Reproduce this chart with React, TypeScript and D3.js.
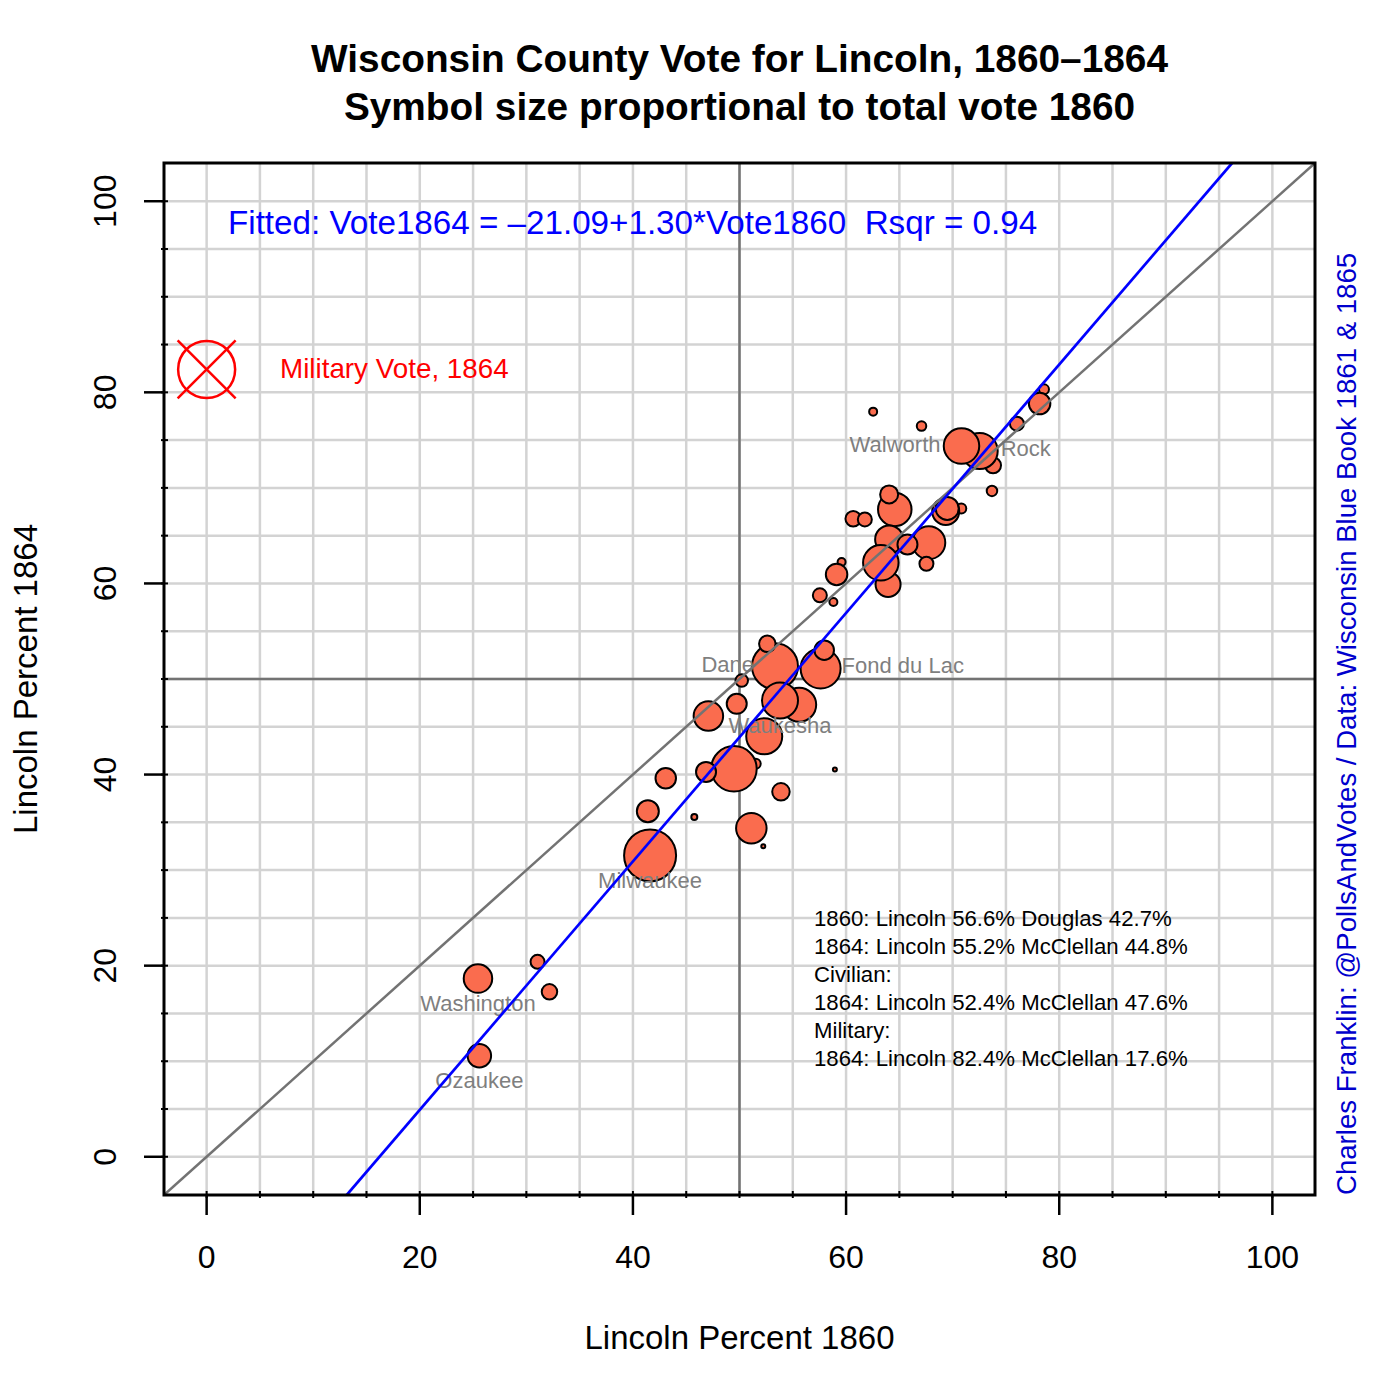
import React from "react";
import * as d3 from "d3";

// ---- data (drawing order) ----
const countyNames = [
  "", "", "", "Rock", "Walworth", "", "", "", "",
  "", "", "", "", "", "", "",
  "", "", "", "", "", "", "",
  "", "", "", "Dane", "", "Fond du Lac", "", "",
  "", "", "Waukesha", "", "", "", "", "",
  "", "", "", "", "", "", "",
  "Milwaukee", "Washington", "", "", "Ozaukee",
];
const pct1860 = [
  62.54, 67.08, 73.79, 72.54, 70.83, 76.03, 78.57, 78.16, 73.69,
  64.57, 64.04, 60.67, 61.76, 70.81, 69.35, 69.49,
  64.04, 67.76, 65.76, 67.54, 63.94, 63.26, 59.58,
  59.11, 57.54, 58.81, 53.33, 52.61, 57.61, 57.95, 50.21,
  49.74, 55.6, 53.8, 47.08, 52.32, 51.52, 49.48, 46.86,
  43.08, 58.95, 53.89, 41.4, 45.76, 51.11, 52.23,
  41.61, 25.46, 31.05, 32.17, 25.59,
];
const pct1864 = [
  77.98, 76.47, 72.36, 73.85, 74.38, 76.72, 80.31, 78.82, 69.68,
  67.75, 69.32, 66.77, 66.7, 67.85, 67.54, 67.85,
  64.61, 64.26, 64.08, 62.06, 59.9, 62.16, 62.25,
  60.94, 58.76, 58.06, 51.34, 53.68, 51.1, 53.02, 49.84,
  47.4, 47.3, 47.75, 46.12, 44.01, 41.12, 40.6, 40.28,
  39.61, 40.52, 38.19, 36.16, 35.57, 34.39, 32.49,
  31.54, 18.65, 20.4, 17.26, 10.58,
];
const vote1860 = [
  1600, 1900, 3200, 7200, 7100, 2800, 2000, 4300, 2100,
  6700, 3600, 3100, 2800, 2000, 5400, 4600,
  5600, 6600, 4000, 2800, 5000, 7100, 1600,
  4300, 2800, 1600, 9200, 3300, 8000, 3900, 2500,
  4000, 6800, 7200, 5900, 7200, 2000, 9100, 4000,
  4100, 800, 3500, 4400, 1200, 6100, 800,
  10400, 5700, 2800, 3100, 4700,
];
const labelSide: Record<string, string> = {
  Walworth: "left", Rock: "right", Dane: "left", "Fond du Lac": "right",
  Waukesha: "below", Milwaukee: "below", Washington: "below", Ozaukee: "below",
};
const fitIntercept = -21.09;
const fitSlope = 1.3;
const rsqr = 0.94;
const militaryPct1864 = 82.4;
const majorTicks = [0, 20, 40, 60, 80, 100];
const gridValues = d3.range(0, 101, 5);
const summaryLines = [
  "1860: Lincoln 56.6% Douglas 42.7%",
  "1864: Lincoln 55.2% McClellan 44.8%",
  "Civilian:",
  "1864: Lincoln 52.4% McClellan 47.6%",
  "Military:",
  "1864: Lincoln 82.4% McClellan 17.6%",
];

const FONT = "'Liberation Sans', Arial, Helvetica, sans-serif";

export default function App() {
  const W = 1400, H = 1400;
  const L = 164, R = 1315, T = 163, B = 1195;
  const x = d3.scaleLinear().domain([-4, 104]).range([L, R]);
  const y = d3.scaleLinear().domain([-4, 104]).range([B, T]);
  const r = d3.scaleLinear().domain([0, 10400]).range([0, 26]);

  const fitX0 = (-4 - fitIntercept) / fitSlope;
  const fitX1 = (104 - fitIntercept) / fitSlope;
  const line = d3.line<[number, number]>().x((d) => x(d[0])).y((d) => y(d[1]));

  const points = pct1860.map((v, i) => ({
    x: v, y: pct1864[i], vote: vote1860[i], name: countyNames[i],
  }));

  const gray = "#737373";
  const labelGray = "#7f7f7f";

  return (
    <svg width={W} height={H} style={{ position: "absolute", left: 0, top: 0, background: "#fff" }} fontFamily={FONT}>
      <rect x={0} y={0} width={W} height={H} fill="#fff" />
      <defs>
        <clipPath id="plotclip">
          <rect x={L} y={T} width={R - L} height={B - T} />
        </clipPath>
      </defs>
      {/* title */}
      <text x={(L + R) / 2} y={72} textAnchor="middle" fontWeight="bold" fontSize={38.8}>
        Wisconsin County Vote for Lincoln, 1860–1864
      </text>
      <text x={(L + R) / 2} y={120} textAnchor="middle" fontWeight="bold" fontSize={38.8}>
        Symbol size proportional to total vote 1860
      </text>

      <g clipPath="url(#plotclip)">
        {gridValues.map((g) => (
          <line key={"gx" + g} x1={x(g)} x2={x(g)} y1={T} y2={B} stroke="#d3d3d3" strokeWidth={2.5} />
        ))}
        {gridValues.map((g) => (
          <line key={"gy" + g} x1={L} x2={R} y1={y(g)} y2={y(g)} stroke="#d3d3d3" strokeWidth={2.5} />
        ))}
        <line x1={x(50)} x2={x(50)} y1={T} y2={B} stroke={gray} strokeWidth={2.5} />
        <line x1={L} x2={R} y1={y(50)} y2={y(50)} stroke={gray} strokeWidth={2.5} />

        {points.map((p, i) => (
          <circle key={"p" + i} cx={x(p.x)} cy={y(p.y)} r={r(p.vote)} fill="#FA6C4E" stroke="#000" strokeWidth={2} />
        ))}

        {points.filter((p) => p.name && labelSide[p.name]).map((p) => {
          const side = labelSide[p.name];
          const px = x(p.x), py = y(p.y);
          let tx = px, ty = py, anchor = "middle";
          if (side === "left") { tx = px - 21; ty = py - 2; anchor = "end"; }
          if (side === "right") { tx = px + 21; ty = py - 3; anchor = "start"; }
          if (side === "below") { ty = py + 25; }
          return (
            <text key={"l" + p.name} x={tx} y={ty} dy="0.35em" textAnchor={anchor} fontSize={22} fill={labelGray}>
              {p.name}
            </text>
          );
        })}

        <path d={line([[-4, -4], [104, 104]]) || ""} stroke={gray} strokeWidth={2.5} fill="none" />
        <path d={line([[fitX0, -4], [fitX1, 104]]) || ""} stroke="#0000ff" strokeWidth={2.7} fill="none" />
      </g>

      {/* fitted text */}
      <text x={228} y={222} dy="0.35em" fontSize={33.2} fill="#0000ff" style={{ whiteSpace: "pre" }}>
        {`Fitted: Vote1864 = \u2013${Math.abs(fitIntercept).toFixed(2)}+${fitSlope.toFixed(2)}*Vote1860  Rsqr = ${rsqr.toFixed(2)}`}
      </text>

      {/* military symbol */}
      <g stroke="#ff0000" strokeWidth={2.5} fill="none">
        <circle cx={x(0)} cy={y(militaryPct1864)} r={28.5} />
        <line x1={x(0) - 29} y1={y(militaryPct1864) - 29} x2={x(0) + 29} y2={y(militaryPct1864) + 29} />
        <line x1={x(0) - 29} y1={y(militaryPct1864) + 29} x2={x(0) + 29} y2={y(militaryPct1864) - 29} />
      </g>
      <text x={280} y={368} dy="0.35em" fontSize={27.8} fill="#ff0000">Military Vote, 1864</text>

      {/* summary */}
      {summaryLines.map((s, i) => (
        <text key={"s" + i} x={814} y={918 + i * 28} dy="0.35em" fontSize={22.2} fill="#000">{s}</text>
      ))}

      {/* border */}
      <rect x={L} y={T} width={R - L} height={B - T} fill="none" stroke="#000" strokeWidth={3} />

      {/* minor ticks */}
      {gridValues.map((g) => (
        <line key={"mx" + g} x1={x(g)} x2={x(g)} y1={B - 4} y2={B + 3} stroke="#000" strokeWidth={2} />
      ))}
      {gridValues.map((g) => (
        <line key={"my" + g} x1={L - 3} x2={L + 4} y1={y(g)} y2={y(g)} stroke="#000" strokeWidth={2} />
      ))}

      {/* x axis */}
      {majorTicks.map((t) => (
        <g key={"xt" + t}>
          <line x1={x(t)} x2={x(t)} y1={B} y2={B + 20} stroke="#000" strokeWidth={2.5} />
          <text x={x(t)} y={1257} dy="0.35em" textAnchor="middle" fontSize={32}>{t}</text>
        </g>
      ))}
      {/* y axis */}
      {majorTicks.map((t) => (
        <g key={"yt" + t}>
          <line x1={L} x2={L - 20} y1={y(t)} y2={y(t)} stroke="#000" strokeWidth={2.5} />
          <text transform={`translate(105,${y(t)}) rotate(-90)`} dy="0.35em" textAnchor="middle" fontSize={32}>{t}</text>
        </g>
      ))}

      <text x={(L + R) / 2} y={1337} dy="0.35em" textAnchor="middle" fontSize={33}>Lincoln Percent 1860</text>
      <text transform={`translate(25,${(T + B) / 2}) rotate(-90)`} dy="0.35em" textAnchor="middle" fontSize={33}>Lincoln Percent 1864</text>

      <text transform={`translate(1346,${B}) rotate(-90)`} dy="0.35em" textAnchor="start" fontSize={27.6} fill="#0000cd">
        Charles Franklin: @PollsAndVotes / Data: Wisconsin Blue Book 1861 &amp; 1865
      </text>
    </svg>
  );
}
